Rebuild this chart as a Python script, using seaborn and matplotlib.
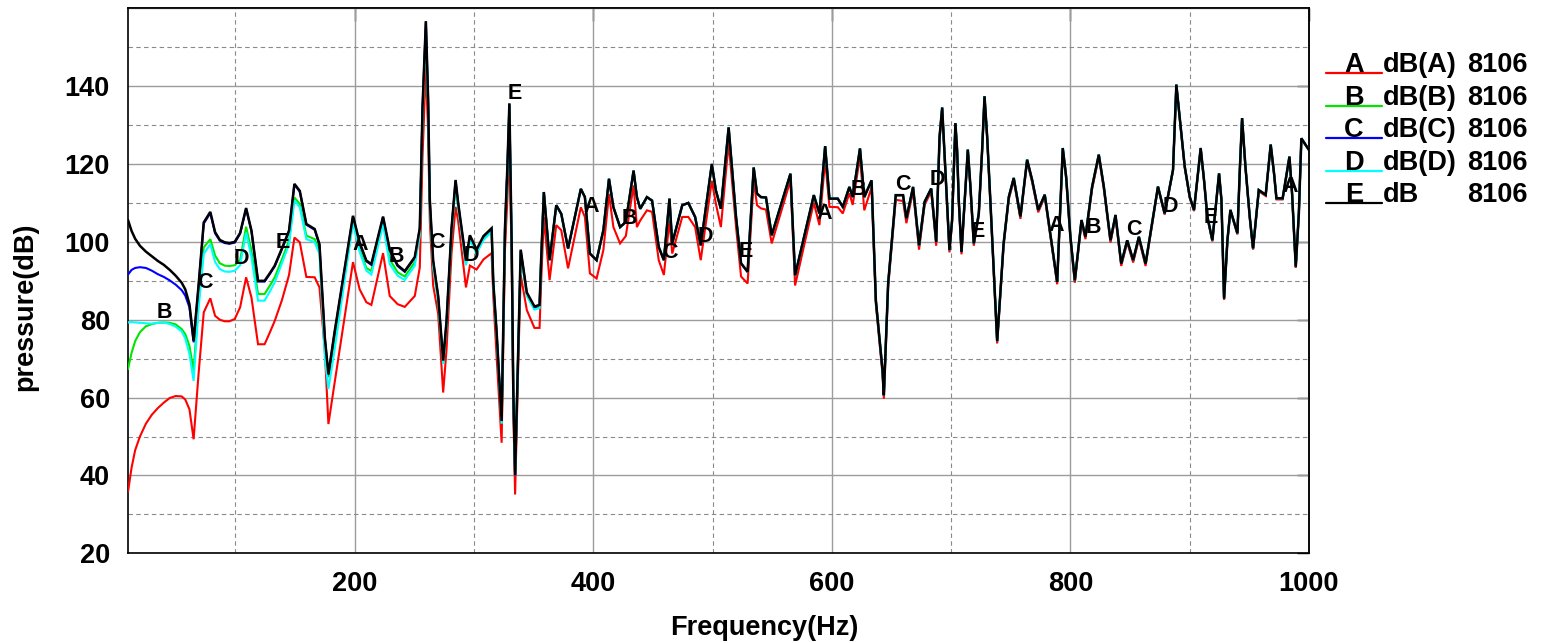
import numpy as np
import pandas as pd
import matplotlib
matplotlib.use("Agg")
import matplotlib.pyplot as plt
from matplotlib.lines import Line2D
from matplotlib.ticker import FixedLocator
import seaborn as sns

# ---------------- data ----------------
freq_hz = [
    10, 13, 16, 20, 25, 30, 35, 40, 45, 50, 55, 58, 61.5, 65, 69, 73.5, 79, 83, 87, 91,
    95, 99.5, 104, 109, 113.5, 119, 124.5, 129, 133, 139, 145, 149.5, 154, 159.5, 166.5, 170.5, 175, 178, 183,
    198.6, 204.2, 209.8, 214, 223.8, 229.4, 236, 242, 250.4, 254.6, 256.9, 259.7, 261.6, 263, 265.8, 270,
    274.2, 277, 281.2, 284.6, 286.8, 293.3, 296.6, 302.2, 308, 314.8, 316.2, 319, 323.2, 326, 328, 329.7,
    331.7, 333, 334.5, 337.3, 339.2, 344.3, 350.7, 355,
    356.3, 358.6, 363.4, 369, 373.2, 378.9, 389.6, 393, 397.2, 402.8, 408.5, 413.2, 416.9, 422.5, 427.3,
    433.8, 436.6, 439.4, 445, 449.3, 454.9, 459.2, 463.9, 466.2, 474.6, 479.7, 485.4, 490.1, 499.4, 502.8,
    507, 513.5, 519.7, 523.9,
    529.4, 534.5, 537.3, 540.6, 544.8, 549.6, 565.3, 569.2, 584.9, 589.6, 594.4, 598, 605, 609.2, 614.7,
    617.5, 623.6, 627.2, 633.3, 636.9, 642.5, 643.6, 647.2, 653.6, 659.7, 662.5, 668.1, 673.1, 677.8,
    683.3, 687.5, 690.3, 692.5,
    698.6, 700.8, 703.6, 705, 706.4, 708.7, 714, 716.2, 719, 723.2, 726, 728, 730.2, 733, 738.6, 744,
    748.4, 752.5, 758.1, 763.7, 767.9, 773, 778.5, 788.9, 791.7, 793.6, 796.4, 800, 803.7, 809.3, 812.6,
    818.2, 823.8, 828, 833.6, 837.8, 842.6, 847.6, 852.6, 857.4, 863,
    873.4, 879, 886, 888.8, 895.8, 900, 903.6, 909.2, 912, 914.8, 919, 924.6, 926.6, 928.8, 931.6, 934.1,
    940, 942, 943.9, 946.7, 950.3, 953.1, 957.9, 963.7, 967.9, 970.7, 972.7, 977.9, 983.6, 985.8, 988.9,
    991.5, 993.6, 1000,
]

# E : dB (unweighted), black
level_E = [
    105.6, 102.8, 100.8, 99.0, 97.5, 96.3, 95.1, 94.1, 92.8, 91.3, 89.5, 87.8, 84.0, 74.6, 88.3, 105.0, 107.7, 102.5, 100.5, 99.9,
    99.7, 100.0, 102.3, 108.7, 102.9, 90.0, 90.0, 92.0, 93.9, 98.3, 102.9, 114.9, 113.1, 104.6, 103.3, 99.4, 75.4, 66.0, 76.5,
    106.7, 99.8, 95.2, 94.3, 106.5, 98.0, 94.0, 92.5, 96.1, 103.5, 134.7, 156.7, 136.5, 110.8, 95.2, 86.1,
    69.5, 79.6, 103.5, 115.9, 109.9, 95.2, 101.7, 98.0, 101.5, 103.5, 89.7, 76.9, 54.0, 103.5, 119.1, 135.6,
    98.0, 61.3, 40.2, 75.0, 98.0, 87.0, 83.4, 83.8,
    95.3, 112.8, 95.3, 109.4, 107.2, 98.3, 113.6, 111.5, 97.0, 95.3, 103.0, 116.2, 108.9, 103.8, 105.1,
    118.3, 111.5, 108.5, 111.5, 110.6, 98.7, 95.3, 111.1, 99.6, 109.4, 110.0, 106.4, 99.1, 120.0, 113.2,
    108.5, 129.4, 106.4, 94.5,
    92.3, 119.1, 112.4, 111.5, 111.4, 101.7, 117.5, 91.4, 112.0, 107.3, 124.6, 111.1, 111.1, 109.0, 114.1,
    111.5, 124.0, 111.5, 115.8, 85.0, 67.0, 60.6, 89.3, 112.0, 112.0, 106.0, 114.1, 99.1, 110.3,
    113.7, 100.0, 127.0, 134.5,
    97.9, 105.6, 130.5, 123.7, 110.8, 97.4, 123.7, 114.2, 99.6, 107.3, 123.7, 137.4, 127.1, 109.9, 74.5, 99.6,
    111.6, 116.4, 106.5, 121.1, 115.9, 108.2, 112.1, 89.7, 109.9, 124.1, 116.8, 101.3, 90.1, 105.6, 101.3,
    114.2, 122.4, 114.2, 100.4, 106.9, 94.4, 100.4, 95.3, 101.3, 94.4,
    114.2, 107.3, 118.5, 140.4, 119.4, 111.6, 108.2, 124.1, 115.9, 106.5, 100.4, 117.6, 110.8, 85.4, 100.4, 108.2,
    102.2, 118.5, 131.8, 119.4, 106.5, 98.3, 113.3, 112.1, 125.0, 117.6, 111.2, 111.2, 121.9, 112.5, 93.6,
    107.4, 126.6, 123.6,
]

# A : dB(A), red
level_A = [
    35.8, 42.0, 46.5, 50.0, 53.3, 55.6, 57.3, 58.7, 59.9, 60.4, 60.3, 59.5, 57.0, 49.3, 65.5, 81.9, 85.5, 81.0, 80.0, 79.6,
    79.6, 80.2, 83.2, 90.9, 85.7, 73.7, 73.7, 76.8, 79.7, 85.0, 91.5, 101.1, 99.9, 91.0, 90.9, 88.3, 72.0, 53.2, 63.4,
    94.8, 87.8, 84.5, 83.8, 97.1, 86.1, 84.0, 83.3, 86.1, 93.4, 122.0, 145.0, 128.0, 105.3, 88.8, 81.5,
    61.3, 72.3, 97.1, 109.0, 105.3, 88.3, 93.9, 92.9, 95.5, 97.1, 86.1, 70.5, 48.4, 98.0, 110.8, 127.0,
    93.4, 56.7, 35.1, 70.5, 91.5, 82.5, 77.9, 77.9,
    89.4, 106.4, 90.2, 104.3, 103.0, 93.2, 108.9, 106.4, 91.9, 90.6, 97.9, 112.3, 103.8, 99.6, 101.5,
    114.5, 103.8, 105.5, 108.1, 107.7, 95.3, 91.5, 105.5, 97.0, 106.4, 106.4, 103.8, 95.3, 115.7, 109.8,
    103.8, 125.5, 103.8, 91.1,
    89.3, 115.8, 109.4, 108.6, 108.3, 99.6, 115.8, 88.8, 110.1, 104.3, 121.0, 109.0, 108.9, 107.3, 112.5,
    109.5, 122.0, 108.1, 114.0, 84.0, 66.0, 59.7, 88.3, 110.8, 110.5, 104.8, 113.0, 98.0, 109.5,
    113.0, 99.0, 126.0, 133.8,
    97.3, 105.0, 129.9, 123.1, 110.2, 96.8, 123.1, 113.6, 99.0, 106.7, 123.1, 136.8, 126.5, 109.3, 73.9, 99.0,
    111.0, 115.8, 105.9, 120.5, 115.3, 107.6, 111.5, 89.1, 109.3, 123.5, 116.2, 100.7, 89.5, 105.0, 100.7,
    113.6, 121.8, 113.6, 99.8, 106.3, 93.8, 99.8, 94.7, 100.7, 93.8,
    113.9, 107.0, 118.2, 140.1, 119.1, 111.3, 107.9, 123.8, 115.6, 106.2, 100.1, 117.3, 110.5, 85.1, 100.1, 107.9,
    101.9, 118.2, 131.5, 119.1, 106.2, 98.0, 113.0, 111.8, 124.7, 117.3, 110.9, 110.9, 121.6, 112.2, 93.3,
    107.1, 126.3, 123.6,
]

# B : dB(B), green
level_B = [
    67.3, 71.5, 74.5, 76.8, 78.3, 78.9, 79.2, 79.3, 79.2, 78.8, 77.6, 76.3, 73.3, 66.9, 84.0, 98.6, 100.7, 96.5, 94.5, 93.9,
    93.8, 94.0, 95.3, 103.9, 97.7, 86.6, 86.6, 88.8, 90.9, 95.5, 100.3, 111.4, 109.7, 101.6, 100.7, 97.7, 74.2, 65.2, 74.6,
    105.3, 98.0, 93.3, 92.5, 105.3, 95.5, 92.2, 91.1, 94.8, 102.5, 133.0, 155.0, 135.0, 109.5, 94.0, 85.0,
    68.8, 78.8, 102.6, 114.8, 109.0, 94.3, 100.8, 97.2, 100.8, 102.8, 89.0, 76.2, 53.4, 102.8, 118.4, 134.8,
    97.3, 60.7, 40.0, 74.4, 97.3, 86.3, 82.8, 83.2,
    95.3, 112.8, 95.3, 109.4, 107.2, 98.3, 113.6, 111.5, 97.0, 95.3, 103.0, 116.2, 108.9, 103.8, 105.1,
    118.3, 111.5, 108.5, 111.5, 110.6, 98.7, 95.3, 111.1, 99.6, 109.4, 110.0, 106.4, 99.1, 120.0, 113.2,
    108.5, 129.4, 106.4, 94.5,
    92.3, 119.1, 112.4, 111.5, 111.4, 101.7, 117.5, 91.4, 112.0, 107.3, 124.6, 111.1, 111.1, 109.0, 114.1,
    111.5, 124.0, 111.5, 115.8, 85.0, 67.0, 60.6, 89.3, 112.0, 112.0, 106.0, 114.1, 99.1, 110.3,
    113.7, 100.0, 127.0, 134.5,
    97.9, 105.6, 130.5, 123.7, 110.8, 97.4, 123.7, 114.2, 99.6, 107.3, 123.7, 137.4, 127.1, 109.9, 74.5, 99.6,
    111.6, 116.4, 106.5, 121.1, 115.9, 108.2, 112.1, 89.7, 109.9, 124.1, 116.8, 101.3, 90.1, 105.6, 101.3,
    114.2, 122.4, 114.2, 100.4, 106.9, 94.4, 100.4, 95.3, 101.3, 94.4,
    114.2, 107.3, 118.5, 140.4, 119.4, 111.6, 108.2, 124.1, 115.9, 106.5, 100.4, 117.6, 110.8, 85.4, 100.4, 108.2,
    102.2, 118.5, 131.8, 119.4, 106.5, 98.3, 113.3, 112.1, 125.0, 117.6, 111.2, 111.2, 121.9, 112.5, 93.6,
    107.4, 126.6, 123.6,
]

# C : dB(C), blue
level_C = [
    91.6, 92.8, 93.3, 93.5, 93.3, 92.6, 91.7, 91.0, 90.1, 89.0, 87.6, 86.2, 83.2, 74.2, 88.0, 104.7, 107.4, 102.2, 100.3, 99.7,
    99.5, 99.8, 102.1, 108.5, 102.7, 89.8, 89.8, 91.8, 93.7, 98.1, 102.7, 114.7, 112.9, 104.4, 103.1, 99.2, 75.2, 65.8, 76.3,
    106.5, 99.6, 95.0, 94.1, 106.3, 97.8, 93.8, 92.3, 95.9, 103.3, 134.5, 156.5, 136.3, 110.6, 95.0, 85.9,
    69.3, 79.4, 103.3, 115.7, 109.7, 95.0, 101.5, 97.8, 101.3, 103.3, 89.5, 76.7, 53.8, 103.3, 118.9, 135.4,
    97.8, 61.1, 40.0, 74.8, 97.8, 86.8, 83.2, 83.6,
    95.3, 112.8, 95.3, 109.4, 107.2, 98.3, 113.6, 111.5, 97.0, 95.3, 103.0, 116.2, 108.9, 103.8, 105.1,
    118.3, 111.5, 108.5, 111.5, 110.6, 98.7, 95.3, 111.1, 99.6, 109.4, 110.0, 106.4, 99.1, 120.0, 113.2,
    108.5, 129.4, 106.4, 94.5,
    92.3, 119.1, 112.4, 111.5, 111.4, 101.7, 117.5, 91.4, 112.0, 107.3, 124.6, 111.1, 111.1, 109.0, 114.1,
    111.5, 124.0, 111.5, 115.8, 85.0, 67.0, 60.6, 89.3, 112.0, 112.0, 106.0, 114.1, 99.1, 110.3,
    113.7, 100.0, 127.0, 134.5,
    97.9, 105.6, 130.5, 123.7, 110.8, 97.4, 123.7, 114.2, 99.6, 107.3, 123.7, 137.4, 127.1, 109.9, 74.5, 99.6,
    111.6, 116.4, 106.5, 121.1, 115.9, 108.2, 112.1, 89.7, 109.9, 124.1, 116.8, 101.3, 90.1, 105.6, 101.3,
    114.2, 122.4, 114.2, 100.4, 106.9, 94.4, 100.4, 95.3, 101.3, 94.4,
    114.2, 107.3, 118.5, 140.4, 119.4, 111.6, 108.2, 124.1, 115.9, 106.5, 100.4, 117.6, 110.8, 85.4, 100.4, 108.2,
    102.2, 118.5, 131.8, 119.4, 106.5, 98.3, 113.3, 112.1, 125.0, 117.6, 111.2, 111.2, 121.9, 112.5, 93.6,
    107.4, 126.6, 123.6,
]

# D : dB(D), cyan
level_D = [
    79.3, 79.4, 79.3, 79.2, 79.1, 79.0, 79.2, 79.3, 78.9, 78.2, 77.0, 75.2, 71.2, 64.3, 82.5, 96.9, 99.4, 94.8, 93.0, 92.4,
    92.3, 92.6, 94.0, 102.4, 96.0, 84.9, 84.9, 87.3, 89.6, 94.5, 99.4, 110.6, 108.9, 100.7, 99.9, 96.9, 70.3, 62.2, 72.0,
    104.9, 97.4, 92.6, 91.6, 104.4, 94.3, 91.3, 90.2, 93.9, 101.7, 132.5, 154.0, 134.5, 109.0, 93.5, 84.5,
    68.6, 78.5, 102.2, 114.3, 108.6, 94.0, 100.5, 97.0, 100.5, 102.6, 88.8, 76.0, 53.3, 102.6, 118.2, 134.5,
    97.1, 60.5, 40.5, 74.2, 97.1, 86.1, 82.6, 83.0,
    95.3, 112.8, 95.3, 109.4, 107.2, 98.3, 113.6, 111.5, 97.0, 95.3, 103.0, 116.2, 108.9, 103.8, 105.1,
    118.3, 111.5, 108.5, 111.5, 110.6, 98.7, 95.3, 111.1, 99.6, 109.4, 110.0, 106.4, 99.1, 120.0, 113.2,
    108.5, 129.4, 106.4, 94.5,
    92.3, 119.1, 112.4, 111.5, 111.4, 101.7, 117.5, 91.4, 112.0, 107.3, 124.6, 111.1, 111.1, 109.0, 114.1,
    111.5, 124.0, 111.5, 115.8, 85.0, 67.0, 60.6, 89.3, 112.0, 112.0, 106.0, 114.1, 99.1, 110.3,
    113.7, 100.0, 127.0, 134.5,
    97.9, 105.6, 130.5, 123.7, 110.8, 97.4, 123.7, 114.2, 99.6, 107.3, 123.7, 137.4, 127.1, 109.9, 74.5, 99.6,
    111.6, 116.4, 106.5, 121.1, 115.9, 108.2, 112.1, 89.7, 109.9, 124.1, 116.8, 101.3, 90.1, 105.6, 101.3,
    114.2, 122.4, 114.2, 100.4, 106.9, 94.4, 100.4, 95.3, 101.3, 94.4,
    114.2, 107.3, 118.5, 140.4, 119.4, 111.6, 108.2, 124.1, 115.9, 106.5, 100.4, 117.6, 110.8, 85.4, 100.4, 108.2,
    102.2, 118.5, 131.8, 119.4, 106.5, 98.3, 113.3, 112.1, 125.0, 117.6, 111.2, 111.2, 121.9, 112.5, 93.6,
    107.4, 126.6, 123.6,
]

curve_ids = ["A", "B", "C", "D", "E"]
curve_names = ["dB(A)", "dB(B)", "dB(C)", "dB(D)", "dB"]
curve_run = ["8106", "8106", "8106", "8106", "8106"]

# letter tags written along the curves (frequency, level)
tag_letter = ["B", "C", "D", "E", "A", "B", "C", "D", "E", "A", "B", "C", "D", "E",
              "A", "B", "C", "D", "E", "A", "B", "C", "D", "E", "A"]
tag_freq = [40.7, 74.2, 105.2, 139.6, 205, 235.2, 268.8, 298.1, 334.2, 398.7, 430.6, 464.2, 494.3, 527.9,
            593.3, 622.6, 659.5, 688.1, 722.0, 788, 819, 853, 884, 918, 984.1]
tag_level = [81.8, 89.5, 95.7, 99.8, 99.3, 96.2, 99.8, 96.4, 138.0, 109.0, 105.9, 97.2, 101.3, 97.4,
             107.2, 113.4, 114.7, 116.0, 102.6, 104.1, 103.7, 103.2, 109.2, 106.2, 114.2]

# ---------------- figure ----------------
sns.set_style("white")
plt.rcParams["font.family"] = ["Liberation Sans", "DejaVu Sans"]
plt.rcParams["font.weight"] = "bold"
plt.rcParams["text.color"] = "black"
plt.rcParams["axes.labelcolor"] = "black"
plt.rcParams["xtick.color"] = "black"
plt.rcParams["ytick.color"] = "black"

W, H = 1544, 643
fig = plt.figure(figsize=(W / 100, H / 100), dpi=100)
ax_left, ax_right, ax_top, ax_bot = 128, 1309, 8.3, 553.3
ax = fig.add_axes([ax_left / W, 1 - ax_bot / H, (ax_right - ax_left) / W, (ax_bot - ax_top) / H])

levels = {"A": level_A, "B": level_B, "C": level_C, "D": level_D, "E": level_E}
df = pd.concat(
    [pd.DataFrame({"freq": freq_hz, "level": levels[c], "curve": c}) for c in curve_ids],
    ignore_index=True,
)
palette = {"A": "#ff0000", "B": "#00e600", "C": "#0000ff", "D": "#00ffff", "E": "#000000"}

sns.lineplot(data=df, x="freq", y="level", hue="curve", hue_order=curve_ids, palette=palette,
             estimator=None, sort=False, legend=False, linewidth=1.5, ax=ax)
for i, ln in enumerate(ax.lines):
    ln.set_zorder(3 + i)
    ln.set_solid_joinstyle("miter")
    if i == len(ax.lines) - 1:
        ln.set_linewidth(1.8)

ax.set_xlim(10, 1000)
ax.set_ylim(20, 160)
ax.xaxis.set_major_locator(FixedLocator([200, 400, 600, 800, 1000]))
ax.xaxis.set_minor_locator(FixedLocator([100, 300, 500, 700, 900]))
ax.yaxis.set_major_locator(FixedLocator([20, 40, 60, 80, 100, 120, 140]))
ax.yaxis.set_minor_locator(FixedLocator([30, 50, 70, 90, 110, 130, 150]))
ax.grid(which="major", color="#9c9c9c", linewidth=1.0, linestyle="-")
ax.grid(which="minor", color="#8a8a8a", linewidth=0.8, linestyle=(0, (4, 3)))
ax.set_axisbelow(True)
ax.axhline(160, color="#9c9c9c", lw=1.0, zorder=1)

ax.tick_params(axis="both", which="major", direction="inout", length=15, width=1.0,
               color="black", labelsize=19.5, labelcolor="black")
ax.tick_params(axis="x", which="major", length=18, pad=4)
ax.tick_params(axis="y", which="major", pad=5.5)
ax.tick_params(axis="both", which="minor", direction="in", length=8, width=0.8, color="black")
for lbl in ax.get_xticklabels() + ax.get_yticklabels():
    lbl.set_fontweight("bold")
    lbl.set_color("black")

for sp in ax.spines.values():
    sp.set_color("black")
    sp.set_linewidth(1.2)

secx = ax.secondary_xaxis("top")
secx.set_xticks([200, 400, 600, 800, 1000])
secx.tick_params(axis="x", direction="in", length=9, width=1.0, labeltop=False, labelbottom=False)
secx.spines["top"].set_linewidth(1.2)
secy = ax.secondary_yaxis("right")
secy.set_yticks([20, 40, 60, 80, 100, 120, 140])
secy.tick_params(axis="y", direction="in", length=9, width=1.0, labelright=False, labelleft=False)
secy.spines["right"].set_linewidth(1.2)

ax.set_xlabel("")
ax.set_ylabel("")
fig.text(764 / W, 1 - 635 / H, "Frequency(Hz)", ha="center", va="baseline",
         fontsize=19.5, fontweight="bold", color="black")
fig.text(25 / W, 1 - 307 / H, "pressure(dB)", ha="center", va="center", rotation=90,
         fontsize=19.5, fontweight="bold", color="black")

# letter tags on the curves
for t, f, v in zip(tag_letter, tag_freq, tag_level):
    ax.text(f, v, t, ha="center", va="center", fontsize=15.5, fontweight="bold",
            color="black", zorder=20)

# legend block on the right
row0, dy = 72, 32.6
for i, c in enumerate(curve_ids):
    yb = row0 + i * dy
    fig.add_artist(Line2D([1326 / W, 1382 / W], [1 - (yb + 1) / H, 1 - (yb + 1) / H],
                          color=palette[c], lw=1.6, transform=fig.transFigure))
    fig.text(1354 / W, 1 - yb / H, c, ha="center", va="baseline", fontsize=19.5,
             fontweight="bold", color="black")
    fig.text(1383 / W, 1 - yb / H, curve_names[i], ha="left", va="baseline", fontsize=19.5,
             fontweight="bold", color="black")
    fig.text(1528 / W, 1 - yb / H, curve_run[i], ha="right", va="baseline", fontsize=19.5,
             fontweight="bold", color="black")

fig.savefig("out.png", dpi=100)
